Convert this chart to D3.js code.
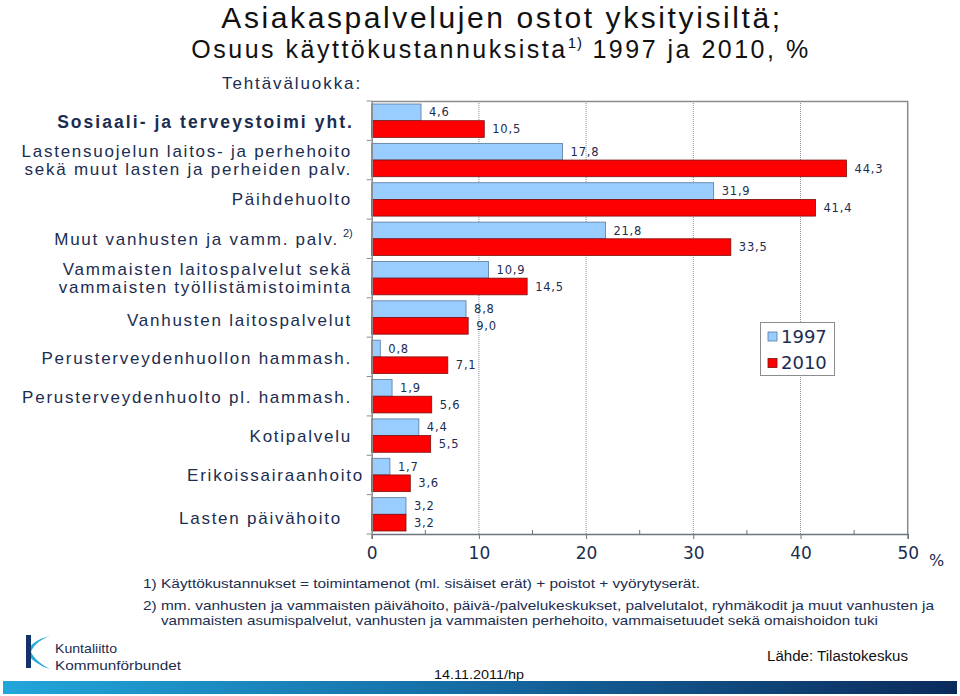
<!DOCTYPE html>
<html><head><meta charset="utf-8">
<script src="https://cdn.jsdelivr.net/npm/d3@7"></script>
<style>
html,body{margin:0;padding:0;background:#fff;}
svg{display:block;}
</style>
</head><body>
<svg id="c" width="960" height="696"></svg>
<script>
// ---- data ----
const categories = [
  "Sosiaali- ja terveystoimi yht.",
  "Lastensuojelun laitos- ja perhehoito|sekä muut lasten ja perheiden palv.",
  "Päihdehuolto",
  "Muut vanhusten ja vamm. palv.",
  "Vammaisten laitospalvelut sekä|vammaisten työllistämistoiminta",
  "Vanhusten laitospalvelut",
  "Perusterveydenhuollon hammash.",
  "Perusterveydenhuolto pl. hammash.",
  "Kotipalvelu",
  "Erikoissairaanhoito",
  "Lasten päivähoito"
];
const series = ["1997", "2010"];
const values1997 = [4.6, 17.8, 31.9, 21.8, 10.9, 8.8, 0.8, 1.9, 4.4, 1.7, 3.2];
const values2010 = [10.5, 44.3, 41.4, 33.5, 14.5, 9.0, 7.1, 5.6, 5.5, 3.6, 3.2];
const xTicks = [0, 10, 20, 30, 40, 50];
const footnotes = [
  "1) Käyttökustannukset = toimintamenot (ml. sisäiset erät) + poistot + vyörytyserät.",
  "2) mm. vanhusten ja vammaisten päivähoito, päivä-/palvelukeskukset, palvelutalot, ryhmäkodit ja muut vanhusten ja",
  "vammaisten asumispalvelut, vanhusten ja vammaisten perhehoito, vammaisetuudet sekä omaishoidon tuki"
];

// ---- layout ----
const svg = d3.select("#c");
const navy = "#1b2d50";
const pLeft = 371.7, pRight = 907.7, pTop = 101, pBottom = 534;
const colors = {"1997": "#99ccff", "2010": "#ff0000"};
const strokes = {"1997": "#5a7899", "2010": "#7a1010"};

const x = d3.scaleLinear().domain([0, 50]).range([pLeft, pRight]);
const y0 = d3.scaleBand().domain(categories).range([pTop, pBottom]).padding(0);
const y1 = d3.scaleBand().domain(series).range([0, y0.bandwidth()]).paddingInner(0).paddingOuter(0.18);

const defs = svg.append("defs");
const grad = defs.append("linearGradient").attr("id", "bar").attr("x1", "0").attr("x2", "1");
grad.append("stop").attr("offset", "0").attr("stop-color", "#22a6da");
grad.append("stop").attr("offset", "0.45").attr("stop-color", "#1670a8");
grad.append("stop").attr("offset", "1").attr("stop-color", "#0b2a5c");

// Titles
svg.append("text").attr("x", 502).attr("y", 28).attr("text-anchor", "middle")
  .style("font-family", "Liberation Sans, Arial, sans-serif").style("font-size", "30px")
  .style("letter-spacing", "2.6px").attr("fill", "#111")
  .text("Asiakaspalvelujen ostot yksityisiltä;");
const st = svg.append("text").attr("x", 501).attr("y", 58).attr("text-anchor", "middle")
  .style("font-family", "Liberation Sans, Arial, sans-serif").style("font-size", "25px")
  .style("letter-spacing", "2.5px").attr("fill", "#111");
st.append("tspan").text("Osuus käyttökustannuksista");
st.append("tspan").attr("dy", -10).style("font-size", "15px").style("letter-spacing", "1px").text("1)");
st.append("tspan").attr("dy", 10).text(" 1997 ja 2010, %");

svg.append("text").attr("x", 222).attr("y", 89)
  .style("font-family", "Liberation Sans, Arial, sans-serif").style("font-size", "17px")
  .style("letter-spacing", "1.9px").attr("fill", navy).text("Tehtäväluokka:");

// grid lines
svg.append("g").selectAll("line").data(xTicks.filter(t => t > 0 && t < 50)).join("line")
  .attr("x1", d => x(d)).attr("x2", d => x(d)).attr("y1", pTop).attr("y2", pBottom)
  .attr("stroke", "#8a8f99").attr("stroke-width", 1).attr("stroke-dasharray", "1,1");

// frame top/right
svg.append("path").attr("d", `M${pLeft},${pTop + 0.5}H${pRight}V${pBottom}`)
  .attr("fill", "none").attr("stroke", "#8c8c8c").attr("stroke-width", 1.5);

// bars
const groups = svg.append("g").selectAll("g").data(categories).join("g")
  .attr("transform", d => `translate(0,${y0(d)})`);
const rows = categories.map((c, i) => [
  {s: "1997", v: values1997[i]}, {s: "2010", v: values2010[i]}
]);
groups.each(function(c, i) {
  const g = d3.select(this);
  g.selectAll("rect").data(rows[i]).join("rect")
    .attr("x", x(0)).attr("y", d => y1(d.s))
    .attr("width", d => x(d.v) - x(0)).attr("height", y1.bandwidth())
    .attr("fill", d => colors[d.s]).attr("stroke", d => strokes[d.s]).attr("stroke-width", 0.8);
  g.selectAll("text").data(rows[i]).join("text")
    .attr("x", d => x(d.v) + 8).attr("y", d => y1(d.s) + y1.bandwidth() / 2)
    .attr("dy", "0.36em")
    .style("font-family", "DejaVu Sans, Verdana, sans-serif").style("font-size", "11.5px")
    .style("letter-spacing", "0.8px")
    .attr("fill", navy).text(d => d3.format(".1f")(d.v).replace(".", ","));
});

// x axis
const xAxis = svg.append("g").attr("transform", `translate(0,${pBottom})`)
  .call(d3.axisBottom(x).tickValues(xTicks).tickSize(5).tickPadding(8).tickFormat(d3.format("d")));
xAxis.select(".domain").attr("stroke", "#6d7480").attr("stroke-width", 1.5);
xAxis.selectAll(".tick line").attr("stroke", "#6d7480");
xAxis.selectAll("text").style("font-family", "DejaVu Sans, Verdana, sans-serif")
  .style("font-size", "17px").attr("fill", navy);
// minor ticks
svg.append("g").selectAll("line").data(d3.range(5, 50, 10)).join("line")
  .attr("x1", d => x(d)).attr("x2", d => x(d)).attr("y1", pBottom).attr("y2", pBottom - 4)
  .attr("stroke", "#6d7480");
svg.append("text").attr("x", 929).attr("y", 566)
  .style("font-family", "DejaVu Sans, Verdana, sans-serif").style("font-size", "16px")
  .attr("fill", navy).text("%");

// y axis
const yAxis = svg.append("g").attr("transform", `translate(${pLeft},0)`)
  .call(d3.axisLeft(y0).tickValues([]).tickSize(0));
yAxis.select(".domain").attr("stroke", "#8c8c8c").attr("stroke-width", 1.5);
const bounds = categories.map(c => y0(c)).concat([pBottom]);
svg.append("g").selectAll("line").data(bounds).join("line")
  .attr("x1", pLeft - 5).attr("x2", pLeft).attr("y1", d => d).attr("y2", d => d)
  .attr("stroke", "#8c8c8c");

// category labels
const labelDx = [2, 0, 0, -13, 0, 0, 0, 0, 0, 12, -10];
const labelDy = [1, 0, 0, 0, 0, 3, 1, 1, 0, 0, 4];
categories.forEach((c, i) => {
  const lines = c.split("|");
  const cy = y0(c) + y0.bandwidth() / 2 + labelDy[i];
  const t = svg.append("text").attr("text-anchor", "end")
    .attr("x", 352 + labelDx[i])
    .style("font-family", "Liberation Sans, Arial, sans-serif")
    .style("font-size", i === 0 ? "17.5px" : "17px").style("letter-spacing", i === 0 ? "2.05px" : "1.75px")
    .style("font-weight", i === 0 ? "bold" : "normal")
    .attr("fill", navy);
  lines.forEach((l, k) => {
    t.append("tspan").attr("x", 352 + labelDx[i])
      .attr("y", cy + (k - (lines.length - 1) / 2) * 18.5).attr("dy", "0.35em").text(l);
  });
  if (i === 3) {
    svg.append("text").attr("x", 343).attr("y", cy - 2)
      .style("font-family", "Liberation Sans, Arial, sans-serif").style("font-size", "11px")
      .attr("fill", navy).text("2)");
  }
});

// legend
const lg = svg.append("g");
lg.append("rect").attr("x", 760.5).attr("y", 322.5).attr("width", 74).attr("height", 53)
  .attr("fill", "#fff").attr("stroke", "#8c8c8c");
series.forEach((s, i) => {
  lg.append("rect").attr("x", 768).attr("y", 332 + i * 26.5).attr("width", 9).attr("height", 9)
    .attr("fill", colors[s]).attr("stroke", strokes[s]).attr("stroke-width", 0.8);
  lg.append("text").attr("x", 781).attr("y", 336.5 + i * 26.5).attr("dy", "0.36em")
    .style("font-family", "DejaVu Sans, Verdana, sans-serif").style("font-size", "18px")
    .attr("fill", navy).text(s);
});

// footnotes
const fnX = [143, 143, 161], fnY = [588, 610, 625], fnW = [557, 791, 717];
footnotes.forEach((f, i) => {
  svg.append("text").attr("x", fnX[i]).attr("y", fnY[i])
    .attr("textLength", fnW[i]).attr("lengthAdjust", "spacingAndGlyphs")
    .style("font-family", "Liberation Sans, Arial, sans-serif").style("font-size", "13px")
    .attr("fill", navy).text(f);
});

// logo
const logo = svg.append("g");
logo.append("path").attr("d", "M50,636 C38,640 32,648 31,652 C33,657 40,664 50,669 C42,667 30,660 26,652 C30,644 40,638 50,636 Z")
  .attr("fill", "#29a9dc");
logo.append("rect").attr("x", 26).attr("y", 635).attr("width", 5).attr("height", 33).attr("fill", "#12336a");
logo.append("text").attr("x", 55).attr("y", 653).attr("textLength", 62).attr("lengthAdjust", "spacingAndGlyphs")
  .style("font-family", "Liberation Sans, Arial, sans-serif").style("font-size", "13.5px").attr("fill", navy).text("Kuntaliitto");
logo.append("text").attr("x", 55).attr("y", 670).attr("textLength", 126).attr("lengthAdjust", "spacingAndGlyphs")
  .style("font-family", "Liberation Sans, Arial, sans-serif").style("font-size", "13.5px").attr("fill", navy).text("Kommunförbundet");

svg.append("text").attr("x", 767).attr("y", 661).attr("textLength", 141).attr("lengthAdjust", "spacingAndGlyphs")
  .style("font-family", "Liberation Sans, Arial, sans-serif").style("font-size", "14px")
  .attr("fill", "#111").text("Lähde: Tilastokeskus");
svg.append("text").attr("x", 434).attr("y", 679).attr("textLength", 90).attr("lengthAdjust", "spacingAndGlyphs")
  .style("font-family", "Liberation Sans, Arial, sans-serif").style("font-size", "13px")
  .attr("fill", "#111").text("14.11.2011/hp");

svg.append("rect").attr("x", 3).attr("y", 681).attr("width", 954).attr("height", 13).attr("fill", "url(#bar)");
</script>
</body></html>
